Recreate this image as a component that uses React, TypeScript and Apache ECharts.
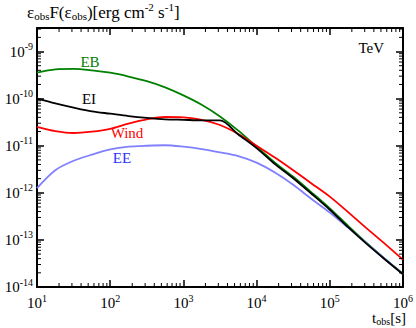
import React, { useEffect, useRef } from "react";
import * as echarts from "echarts";

// observed time [s], evenly spaced in log10
const T_OBS = [10, 17.78, 31.62, 56.23, 100, 177.8, 316.2, 562.3, 1000, 1778, 3162, 5623, 1e4, 17783, 31623, 56234, 1e5, 177828, 316228, 562341, 1e6];

// log10 of flux [erg cm^-2 s^-1]
const EB_LOG = [-9.45, -9.38, -9.37, -9.4, -9.45, -9.53, -9.63, -9.76, -9.93, -10.13, -10.38, -10.68, -11.02, -11.36, -11.66, -11.99, -12.33, -12.7, -13.06, -13.4, -13.72];
const EI_LOG = [-10.0, -10.1, -10.19, -10.27, -10.32, -10.37, -10.41, -10.44, -10.45, -10.46, -10.46, -10.76, -11.05, -11.39, -11.69, -12.02, -12.36, -12.73, -13.08, -13.41, -13.73];
const WIND_LOG = [-10.6, -10.69, -10.73, -10.7, -10.64, -10.53, -10.44, -10.39, -10.4, -10.45, -10.56, -10.75, -11.0, -11.25, -11.52, -11.8, -12.08, -12.41, -12.75, -13.08, -13.42];
const EE_LOG = [-11.9, -11.52, -11.32, -11.19, -11.08, -11.02, -11.0, -10.99, -11.02, -11.07, -11.14, -11.22, -11.36, -11.57, -11.83, -12.13, -12.42, -12.74, -13.07, -13.4, -13.73];

// axis ranges (decades)
const X_DECADES = [1, 2, 3, 4, 5, 6];
const Y_DECADES = [-14, -13, -12, -11, -10, -9];
const Y_TOP = -8.5;

const SERIES_NAMES = ["EB", "EI", "Wind", "EE"];
const SERIES_COLORS = ["#008000", "#000000", "#ff0000", "#8080ff"];
const LABEL_COLORS = ["#008000", "#000000", "#ff0000", "#3030ff"];

const FONT = "Liberation Serif";

export default function App() {
  const ref = useRef<HTMLDivElement>(null);
  useEffect(() => {
    if (!ref.current) return;
    const chart = echarts.init(ref.current, undefined, { renderer: "svg" });
    const xmin = X_DECADES[0];
    const xmax = X_DECADES[X_DECADES.length - 1];
    const ymin = Y_DECADES[0];

    const toPts = (ys: number[]) => T_OBS.map((t, i) => [Math.log10(t), ys[i]]);
    const allY = [EB_LOG, EI_LOG, WIND_LOG, EE_LOG];

    // minor tick positions (log10 of 2..9 within each decade)
    const minor: number[][] = [];
    for (let d = xmin; d < xmax; d++) {
      for (let k = 2; k <= 9; k++) minor.push([d + Math.log10(k), ymin, 0]);
    }
    for (let d = ymin; d < Math.ceil(Y_TOP); d++) {
      for (let k = 2; k <= 9; k++) {
        const v = d + Math.log10(k);
        if (v <= Y_TOP + 1e-9) minor.push([xmin, v, 1]);
      }
    }

    const supRich = {
      a: { fontSize: 15, fontFamily: FONT, color: "#000", lineHeight: 16 },
      b: { fontSize: 10, fontFamily: FONT, color: "#000", padding: [0, 0, 10, 0] },
    };
    const fmt = (v: number) => (Math.abs(v - Math.round(v)) < 1e-6 ? `{a|10}{b|${Math.round(v)}}` : "");

    const axisCommon = {
      type: "value" as const,
      interval: 1,
      axisLine: { show: true, onZero: false, lineStyle: { color: "#000", width: 2 } },
      axisTick: { show: true, inside: true, length: 7, lineStyle: { color: "#000", width: 1.5 } },
      splitLine: { show: false },
    };

    const option: any = {
      animation: false,
      textStyle: { fontFamily: FONT },
      grid: { left: 37, right: 13, top: 28, bottom: 41, outerBoundsMode: "none" },
      xAxis: [
        { ...axisCommon, position: "bottom", min: xmin, max: xmax,
          axisLabel: { show: true, formatter: fmt, rich: supRich, margin: 6, fontFamily: FONT } },
        { ...axisCommon, position: "top", min: xmin, max: xmax, axisLabel: { show: false } },
      ],
      yAxis: [
        { ...axisCommon, position: "left", min: ymin, max: Y_TOP,
          axisLabel: { show: true, formatter: fmt, rich: supRich, margin: 4, showMaxLabel: false, fontFamily: FONT } },
        { ...axisCommon, position: "right", min: ymin, max: Y_TOP, axisLabel: { show: false } },
      ],
      series: [
        ...allY.map((ys, i) => ({
          type: "line",
          name: SERIES_NAMES[i],
          data: toPts(ys),
          showSymbol: false,
          smooth: 0.3,
          lineStyle: { color: SERIES_COLORS[i], width: 1.8 },
          z: i === 1 ? 4 : 3,
        })),
        {
          type: "custom",
          data: minor,
          silent: true,
          z: 10,
          renderItem: (params: any, api: any) => {
            const cs = params.coordSys;
            const kind = api.value(2);
            const st = { stroke: "#000", lineWidth: 1 };
            if (kind === 0) {
              const x = api.coord([api.value(0), ymin])[0];
              return {
                type: "group",
                children: [
                  { type: "line", shape: { x1: x, y1: cs.y + cs.height, x2: x, y2: cs.y + cs.height - 4 }, style: st },
                  { type: "line", shape: { x1: x, y1: cs.y, x2: x, y2: cs.y + 4 }, style: st },
                ],
              };
            }
            const y = api.coord([xmin, api.value(1)])[1];
            return {
              type: "group",
              children: [
                { type: "line", shape: { x1: cs.x, y1: y, x2: cs.x + 4, y2: y }, style: st },
                { type: "line", shape: { x1: cs.x + cs.width, y1: y, x2: cs.x + cs.width - 4, y2: y }, style: st },
              ],
            };
          },
        },
      ],
      graphic: [
        {
          type: "text", left: 27, top: 1, z: 20,
          style: {
            text: "{n|ε}{s|obs}{n|F(ε}{s|obs}{n|)[erg cm}{p|-2}{n| s}{p|-1}{n|]}",
            fontFamily: FONT,
            rich: {
              n: { fontSize: 17, fontFamily: FONT, color: "#000" },
              s: { fontSize: 11, fontFamily: FONT, color: "#000", padding: [7, 0, 0, 0] },
              p: { fontSize: 11, fontFamily: FONT, color: "#000", padding: [0, 0, 11, 0] },
            },
          },
        },
        {
          type: "text", x: 384, y: 48, z: 20,
          style: { text: "TeV", fontSize: 15, fontFamily: FONT, fill: "#000", align: "right", verticalAlign: "middle" },
        },
        {
          type: "text", right: 10, top: 310, z: 20,
          style: {
            text: "{n|t}{s|obs}{n|[s]}",
            fontFamily: FONT,
            rich: {
              n: { fontSize: 15, fontFamily: FONT, color: "#000", lineHeight: 15 },
              s: { fontSize: 10, fontFamily: FONT, color: "#000", padding: [6, 0, 0, 0], lineHeight: 10 },
            },
          },
        },
        ...[
          [90, 62],
          [89, 99],
          [127, 133],
          [122, 158],
        ].map((p, i) => ({
          type: "text", x: p[0], y: p[1], z: 20,
          style: { text: SERIES_NAMES[i], fontSize: 15, fontFamily: FONT, fill: LABEL_COLORS[i], align: "center", verticalAlign: "middle" },
        })),
      ],
    };
    chart.setOption(option);
    return () => chart.dispose();
  }, []);
  return <div ref={ref} style={{ position: "absolute", left: 0, top: 0, width: 416, height: 328, background: "#fff" }} />;
}
